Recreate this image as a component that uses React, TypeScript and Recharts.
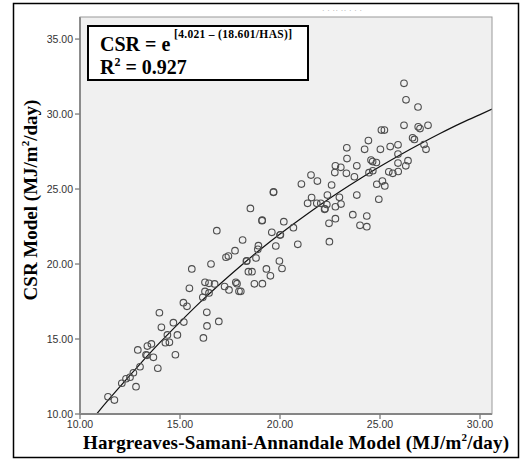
import { CartesianGrid, ComposedChart, Line, Scatter, XAxis, YAxis } from 'recharts';

// observed points: HAS model (x) vs CSR model (y), MJ/m2/day
const hasValues = [
    11.4, 11.72, 12.09, 12.3, 12.5, 12.67, 12.8, 13.0, 12.89, 13.3, 13.35, 13.67, 13.37, 13.57, 13.89,
    13.97, 14.07, 14.27, 14.47, 14.37, 14.67, 14.77, 14.87, 15.17, 15.19, 15.35, 15.47, 15.59, 16.14,
    16.17, 16.25, 16.25, 16.34, 16.35, 16.45, 16.45, 16.55, 16.73, 16.84, 16.94, 17.23, 17.3, 17.42,
    17.45, 17.75, 17.79, 17.85, 17.95, 18.04, 18.13, 18.32, 18.34, 18.42, 18.6, 18.72, 18.8, 18.89,
    18.92, 19.1, 19.11, 19.12, 19.32, 19.52, 19.67, 19.68, 19.59, 19.79, 19.97, 20.0, 20.02, 20.1,
    20.19, 18.52, 20.67, 20.89, 21.07, 21.38, 21.55, 21.58, 21.87, 21.84, 22.04, 22.34, 22.23, 22.25,
    22.37, 22.45, 22.47, 22.58, 22.77, 22.74, 22.77, 22.77, 23.04, 22.97, 23.05, 23.34, 23.35, 23.32,
    23.64, 23.72, 23.84, 23.84, 24.0, 24.23, 24.34, 24.34, 24.42, 24.45, 24.55, 24.63, 24.64, 24.82,
    24.84, 24.94, 25.02, 25.07, 25.22, 25.12, 25.24, 25.44, 25.64, 25.51, 25.9, 25.9, 25.9, 25.91,
    26.2, 26.3, 26.9, 26.2, 26.91, 27.0, 27.4, 26.63, 26.72, 27.2, 27.3, 26.4, 26.29,
];
const csrValues = [
    11.15, 10.93, 12.05, 12.35, 12.45, 12.75, 11.82, 13.15, 14.27, 13.95, 13.91, 13.78, 14.53, 14.67, 13.05,
    16.75, 15.78, 14.75, 14.78, 15.27, 16.09, 13.95, 15.27, 17.42, 16.13, 17.18, 18.38, 19.67, 17.78,
    15.07, 18.78, 18.17, 16.78, 15.87, 18.71, 18.07, 20.0, 18.67, 22.22, 16.17, 18.5, 20.45, 20.53,
    18.27, 20.89, 18.78, 18.69, 18.18, 18.18, 21.6, 20.19, 20.21, 19.49, 19.49, 18.68, 20.4, 20.98,
    21.22, 22.89, 22.92, 18.69, 19.67, 19.21, 24.78, 24.81, 22.11, 21.2, 20.2, 21.93, 21.95, 19.7,
    22.82, 23.71, 22.42, 21.31, 25.33, 24.05, 25.93, 24.43, 25.53, 24.05, 24.05, 23.97, 23.65, 23.68,
    24.6, 22.71, 21.49, 25.27, 26.55, 26.1, 23.82, 23.02, 26.45, 24.45, 24.0, 27.75, 27.03, 26.05,
    23.29, 25.82, 26.55, 24.6, 22.58, 27.65, 23.2, 22.49, 28.23, 26.09, 26.93, 26.83, 26.22, 26.77,
    25.32, 24.32, 27.65, 28.93, 28.93, 25.53, 25.21, 26.15, 26.05, 27.83, 27.95, 27.33, 26.73, 26.17,
    32.05, 30.95, 30.47, 29.25, 29.15, 29.03, 29.25, 28.42, 28.31, 27.97, 27.65, 26.89, 26.55,
];

// fitted curve CSR = e^[4.021 - (18.601/HAS)], values read at these HAS points
const fitHas = [10.83, 11, 12, 13, 14, 15, 16, 17, 18, 19, 20, 21, 22, 23, 24, 25, 26, 27, 28, 29, 30, 30.6];
const fitCsr = [
    10.0, 10.28, 11.83, 13.33, 14.77, 16.13, 17.44, 18.67, 19.84, 20.95, 22.0, 22.99, 23.94, 24.84,
    25.69, 26.5, 27.27, 28.0, 28.7, 29.36, 29.96, 30.33,
];

const xTicks = [10, 15, 20, 25, 30];
const yTicks = [10, 15, 20, 25, 30, 35];

const points = hasValues.map((x, i) => ({ x, y: csrValues[i] }));
const fitLine = fitHas.map((x, i) => ({ x, y: fitCsr[i] }));

const serif = '"Liberation Serif", "Times New Roman", serif';
const tickStyle = { fontFamily: '"Liberation Sans", Arial, sans-serif', fontSize: 10.5, fill: '#333' };

const OpenCircle = (props: any) => (
    <circle cx={props.cx} cy={props.cy} r={3.3} fill="none" stroke="#4d4d4d" strokeWidth={1.1} />
);

export default function App() {
    return (
        <div style={{ position: 'absolute', left: 0, top: 0, width: 529, height: 465, background: '#fff' }}>
            <ComposedChart
                width={529}
                height={465}
                margin={{ top: 17, right: 37, bottom: 21, left: 20 }}
                style={{ position: 'absolute', left: 0, top: 0 }}
            >
                <CartesianGrid fill="#f0f0f0" horizontal={false} vertical={false} />
                <XAxis
                    type="number"
                    dataKey="x"
                    domain={[10, 30.6]}
                    ticks={xTicks}
                    interval={0}
                    allowDataOverflow
                    height={30}
                    tickSize={5}
                    tickFormatter={(v: number) => v.toFixed(2)}
                    tick={tickStyle}
                    axisLine={{ stroke: '#707070', strokeWidth: 1.8 }}
                    tickLine={{ stroke: '#555' }}
                />
                <YAxis
                    type="number"
                    dataKey="y"
                    domain={[10, 36.47]}
                    ticks={yTicks}
                    interval={0}
                    allowDataOverflow
                    width={60}
                    tickSize={5}
                    tickFormatter={(v: number) => v.toFixed(2)}
                    tick={tickStyle}
                    axisLine={{ stroke: '#707070', strokeWidth: 1.8 }}
                    tickLine={{ stroke: '#555' }}
                />
                <Scatter data={points} dataKey="y" shape={OpenCircle} isAnimationActive={false} />
                <Line
                    data={fitLine}
                    dataKey="y"
                    type="monotone"
                    stroke="#111"
                    strokeWidth={1.2}
                    dot={false}
                    activeDot={false}
                    isAnimationActive={false}
                />
            </ComposedChart>
            <svg width={529} height={465} style={{ position: 'absolute', left: 0, top: 0, pointerEvents: 'none' }}>
                <rect x={13.5} y={3.5} width={505} height={454} fill="none" stroke="#000" strokeWidth={1.5} />
                <rect x={80} y={17} width={412} height={397} fill="none" stroke="#9a9a9a" strokeWidth={1} />
                <text x={342} y={13} textAnchor="middle" fontSize={9} fill="#b0b0b0" fontFamily={serif}>
                    · · ·· ·· · · ·
                </text>
                <rect x={88} y={26} width={220} height={54} fill="#fff" stroke="#000" strokeWidth={2} />
                <text x={100} y={51} fontFamily={serif} fontWeight="bold" fontSize={20} fill="#000">
                    CSR = e
                </text>
                <text
                    x={174}
                    y={38}
                    fontFamily={serif}
                    fontWeight="bold"
                    fontSize={11.5}
                    fill="#000"
                    textLength={118}
                    lengthAdjust="spacing"
                >
                    [4.021 – (18.601/HAS)]
                </text>
                <text x={100} y={74} fontFamily={serif} fontWeight="bold" fontSize={20} fill="#000">
                    R<tspan fontSize={12} dy={-8}>2</tspan>
                    <tspan dy={8}> = 0.927</tspan>
                </text>
                <text
                    transform="translate(37 200) rotate(-90)"
                    textAnchor="middle"
                    fontFamily={serif}
                    fontWeight="bold"
                    fontSize={19}
                    fill="#000"
                >
                    CSR Model (MJ/m<tspan fontSize={11} dy={-8}>2</tspan>
                    <tspan dy={8}>/day)</tspan>
                </text>
                <text
                    x={83}
                    y={449}
                    fontFamily={serif}
                    fontWeight="bold"
                    fontSize={19}
                    fill="#000"
                    textLength={426}
                    lengthAdjust="spacing"
                >
                    Hargreaves-Samani-Annandale Model (MJ/m<tspan fontSize={11} dy={-8}>2</tspan>
                    <tspan dy={8}>/day)</tspan>
                </text>
            </svg>
        </div>
    );
}
